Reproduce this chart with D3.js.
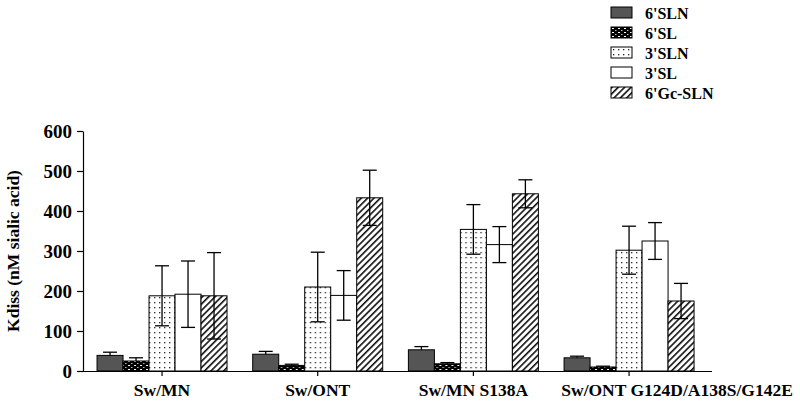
<!DOCTYPE html>
<html>
<head>
<meta charset="utf-8">
<script src="https://cdn.jsdelivr.net/npm/d3@7"></script>
<style>
  html, body { margin: 0; padding: 0; background: #fff; }
  text { font-family: "Liberation Serif", "DejaVu Serif", serif; font-weight: bold; fill: #000; }
</style>
</head>
<body>
<svg id="chart" width="800" height="401"></svg>
<script>
const categories = ["Sw/MN", "Sw/ONT", "Sw/MN S138A", "Sw/ONT G124D/A138S/G142E"];
const seriesNames = ["6'SLN", "6'SL", "3'SLN", "3'SL", "6'Gc-SLN"];
// values per series, in category order
const v6SLN   = [39, 42, 53, 33];
const v6SL    = [25, 14, 18, 10];
const v3SLN   = [188, 210, 354, 302];
const v3SL    = [192, 189, 316, 325];
const v6GcSLN = [188, 433, 443, 175];
// error (half range) per series
const e6SLN   = [8, 7, 8, 4];
const e6SL    = [8, 3, 3, 2];
const e3SLN   = [75, 87, 62, 60];
const e3SL    = [83, 62, 45, 46];
const e6GcSLN = [108, 69, 35, 44];
const yTicks = [0, 100, 200, 300, 400, 500, 600];
const yTitle = "Kdiss (nM sialic acid)";

const values = [v6SLN, v6SL, v3SLN, v3SL, v6GcSLN];
const errors = [e6SLN, e6SL, e3SLN, e3SL, e6GcSLN];

const svg = d3.select("#chart");
const defs = svg.append("defs");

// patterns
const pDense = defs.append("pattern").attr("id", "pDense").attr("patternUnits", "userSpaceOnUse")
  .attr("width", 6).attr("height", 4);
pDense.append("rect").attr("width", 6).attr("height", 4).attr("fill", "#000");
pDense.append("rect").attr("x", 1).attr("y", 1).attr("width", 2).attr("height", 1).attr("fill", "#fff");
pDense.append("rect").attr("x", 4).attr("y", 3).attr("width", 1.5).attr("height", 1).attr("fill", "#bbb");

const pDots = defs.append("pattern").attr("id", "pDots").attr("patternUnits", "userSpaceOnUse")
  .attr("width", 5).attr("height", 5);
pDots.append("rect").attr("width", 5).attr("height", 5).attr("fill", "#fff");
pDots.append("rect").attr("x", 2).attr("y", 2).attr("width", 1.3).attr("height", 1.3).attr("fill", "#222");

const pHatch = defs.append("pattern").attr("id", "pHatch").attr("patternUnits", "userSpaceOnUse")
  .attr("width", 4.5).attr("height", 4.5).attr("patternTransform", "rotate(45)");
pHatch.append("rect").attr("width", 4.5).attr("height", 4.5).attr("fill", "#fff");
pHatch.append("rect").attr("x", 0).attr("y", 0).attr("width", 1.6).attr("height", 4.5).attr("fill", "#111");

const fills = ["#555555", "url(#pDense)", "url(#pDots)", "#ffffff", "url(#pHatch)"];

const y = d3.scaleLinear().domain([0, 600]).range([371, 131]);
const x0 = d3.scaleBand().domain(categories).range([84.2, 706.9]).paddingInner(0.165).paddingOuter(0.0825);
const x1 = d3.scaleBand().domain(seriesNames).range([0, x0.bandwidth()]);

// Y axis
const yAxis = svg.append("g").attr("transform", "translate(83,0)")
  .call(d3.axisLeft(y).tickValues(yTicks).tickSize(6).tickSizeOuter(0).tickPadding(5));
yAxis.selectAll("text").style("font-size", "19px");
yAxis.selectAll("line, path").attr("stroke", "#000").attr("stroke-width", 1.2);

// X axis
const xAxis = svg.append("g").attr("transform", "translate(0,371)")
  .call(d3.axisBottom(x0).tickSize(5).tickSizeOuter(0).tickPadding(5));
xAxis.select("path.domain").attr("d", "M83,0.5H712");
xAxis.selectAll("text").style("font-size", "17.5px").attr("dy", "0.85em")
  .attr("dx", (d, i) => i === categories.length - 1 ? 48 : 0);
xAxis.selectAll("line, path").attr("stroke", "#000").attr("stroke-width", 1.2);

// y title
svg.append("text")
  .attr("transform", `translate(19,${(131 + 371) / 2}) rotate(-90)`)
  .attr("text-anchor", "middle")
  .style("font-size", "17.5px")
  .text(yTitle);

// bars
const groups = svg.append("g").selectAll("g").data(categories).join("g")
  .attr("transform", d => `translate(${x0(d)},0)`);

seriesNames.forEach((s, si) => {
  groups.append("rect")
    .attr("x", x1(s))
    .attr("y", (d, ci) => y(values[si][ci]))
    .attr("width", x1.bandwidth())
    .attr("height", (d, ci) => y(0) - y(values[si][ci]))
    .attr("fill", fills[si])
    .attr("stroke", "#000")
    .attr("stroke-width", 1);
});

// error bars
seriesNames.forEach((s, si) => {
  groups.each(function (d, ci) {
    const g = d3.select(this);
    const cx = x1(s) + x1.bandwidth() / 2;
    const v = values[si][ci], e = errors[si][ci];
    const top = y(v + e);
    const bottom = si >= 2 ? y(v - e) : y(v);
    g.append("line").attr("x1", cx).attr("x2", cx).attr("y1", top).attr("y2", bottom)
      .attr("stroke", "#000").attr("stroke-width", 1.3);
    g.append("line").attr("x1", cx - 7).attr("x2", cx + 7).attr("y1", top).attr("y2", top)
      .attr("stroke", "#000").attr("stroke-width", 1.3);
    if (si >= 2) {
      g.append("line").attr("x1", cx - 7).attr("x2", cx + 7).attr("y1", bottom).attr("y2", bottom)
        .attr("stroke", "#000").attr("stroke-width", 1.3);
    }
  });
});

// legend
const legend = svg.append("g").attr("transform", "translate(611,7)");
seriesNames.forEach((s, i) => {
  const row = legend.append("g").attr("transform", `translate(0,${i * 20})`);
  row.append("rect").attr("width", 21).attr("height", 11).attr("fill", fills[i])
    .attr("stroke", "#000").attr("stroke-width", 1);
  row.append("text").attr("x", 34).attr("y", 6).attr("dy", "0.35em")
    .style("font-size", "16px").text(s);
});
</script>
</body>
</html>
